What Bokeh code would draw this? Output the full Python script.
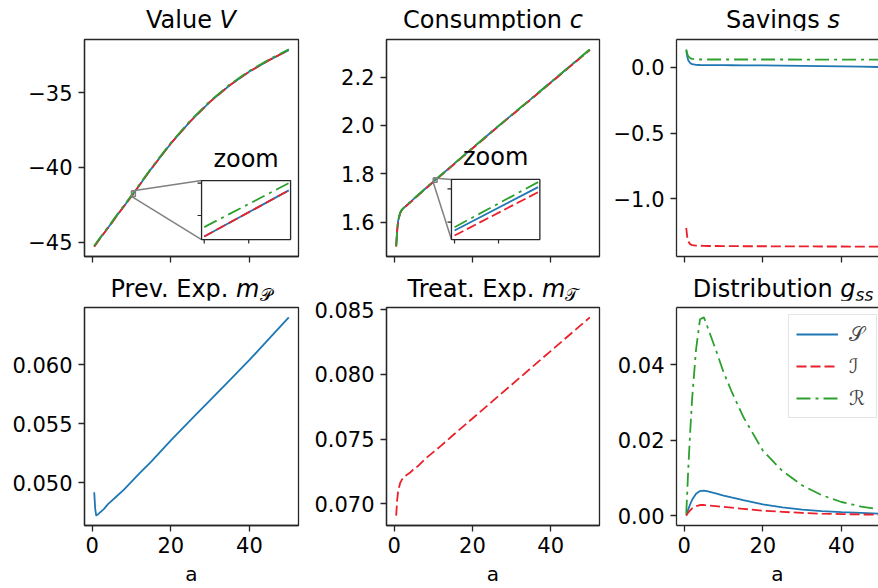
from bokeh.plotting import figure
from bokeh.layouts import column, row
from bokeh.models import Range1d, FixedTicker, Label, LinearAxis, Div
from bokeh.embed import file_html
from bokeh.resources import INLINE

FONT = "DejaVu Sans"

# ---------------- data ----------------
a = [0.5, 0.75, 1, 1.5, 2, 3, 4, 5, 6, 8, 10, 12, 15, 20, 25, 30, 35, 40, 45, 50]

V_S = [-45.30, -45.20, -45.12, -44.93, -44.75, -44.40, -44.05, -43.70, -43.33, -42.62,
       -41.93, -41.20, -40.10, -38.40, -36.90, -35.60, -34.50, -33.58, -32.82, -32.15]
V_I = [-45.31, -45.21, -45.13, -44.94, -44.76, -44.41, -44.06, -43.71, -43.34, -42.63,
       -41.93, -41.20, -40.10, -38.40, -36.90, -35.60, -34.50, -33.58, -32.82, -32.15]
V_R = [-45.25, -45.15, -45.07, -44.88, -44.70, -44.35, -44.00, -43.65, -43.28, -42.57,
       -41.875, -41.15, -40.05, -38.35, -36.85, -35.55, -34.45, -33.53, -32.77, -32.10]

c_S = [1.500, 1.565, 1.605, 1.638, 1.652, 1.667, 1.681, 1.696, 1.710, 1.739,
       1.7675, 1.795, 1.837, 1.906, 1.975, 2.043, 2.110, 2.178, 2.246, 2.314]
c_I = [1.4985, 1.5635, 1.6035, 1.6365, 1.6505, 1.6655, 1.6795, 1.6945, 1.7085, 1.7375,
       1.766, 1.7935, 1.8355, 1.9045, 1.9735, 2.0415, 2.1085, 2.1765, 2.2445, 2.3125]
c_R = [1.501, 1.566, 1.606, 1.639, 1.653, 1.668, 1.682, 1.697, 1.711, 1.740,
       1.7685, 1.796, 1.838, 1.907, 1.976, 2.044, 2.111, 2.179, 2.247, 2.315]

s_S = [0.128, 0.085, 0.055, 0.033, 0.024, 0.019, 0.018, 0.0175, 0.017, 0.0168,
       0.0165, 0.016, 0.0155, 0.0145, 0.013, 0.0115, 0.0095, 0.0075, 0.005, 0.0025]
s_I = [-1.222, -1.290, -1.325, -1.346, -1.353, -1.357, -1.358, -1.359, -1.360, -1.360,
       -1.361, -1.361, -1.362, -1.362, -1.363, -1.363, -1.364, -1.364, -1.365, -1.365]
s_R = [0.137, 0.105, 0.085, 0.070, 0.064, 0.061, 0.060, 0.060, 0.060, 0.060,
       0.060, 0.060, 0.060, 0.0598, 0.0597, 0.0596, 0.0595, 0.0594, 0.0593, 0.0592]

m_P = [0.0492, 0.0478, 0.04723, 0.04735, 0.0475, 0.0478, 0.0482, 0.0485, 0.0488, 0.0494,
       0.0501, 0.0508, 0.0518, 0.0536, 0.0553, 0.0570, 0.0587, 0.0604, 0.0622, 0.0640]
m_T = [0.0691, 0.0703, 0.0710, 0.0716, 0.0719, 0.0722, 0.0724, 0.0727, 0.0729, 0.0735,
       0.0740, 0.0745, 0.0753, 0.0766, 0.0779, 0.0792, 0.0805, 0.0818, 0.0831, 0.0844]

g_S = [0.0, 0.0008, 0.0016, 0.0030, 0.0042, 0.0058, 0.0065, 0.0066, 0.0064, 0.0059,
       0.0053, 0.0048, 0.0041, 0.0030, 0.0022, 0.0016, 0.0012, 0.0009, 0.0007, 0.0005]
g_I = [0.0, 0.0004, 0.0008, 0.0014, 0.0019, 0.0025, 0.0028, 0.0028, 0.0027, 0.0025,
       0.0023, 0.0021, 0.0018, 0.0013, 0.0010, 0.0007, 0.0005, 0.0004, 0.0003, 0.0002]
g_R = [0.0005, 0.0060, 0.0120, 0.0220, 0.0310, 0.0440, 0.0520, 0.0525, 0.0497, 0.0440,
       0.0380, 0.0330, 0.0262, 0.0172, 0.0118, 0.0080, 0.0054, 0.0036, 0.0024, 0.0016]

# zoom insets (a around 10)
zoom_a = [10.0, 10.95]
V_S_zoom = [-41.93, -41.645]
V_I_zoom = [-41.93, -41.645]
V_R_zoom = [-41.872, -41.60]
V_zoom_x = [9.97, 10.97]
V_zoom_y = [-41.949, -41.584]
V_zoom_xticks = [10.0, 10.5]
V_zoom_yticks = [-41.8, -41.6]

c_S_zoom = [1.7675, 1.7805]
c_I_zoom = [1.7660, 1.7790]
c_R_zoom = [1.7685, 1.7820]
c_zoom_x = [9.965, 10.97]
c_zoom_y = [1.7648, 1.7828]
c_zoom_xticks = [10.0, 10.5]
c_zoom_yticks = [1.77, 1.78]

x_ticks = [0, 20, 40]
x_tick_labels = ["0", "20", "40"]
V_ticks = [-45, -40, -35]
V_tick_labels = ["\u221245", "\u221240", "\u221235"]
c_ticks = [1.6, 1.8, 2.0, 2.2]
c_tick_labels = ["1.6", "1.8", "2.0", "2.2"]
s_ticks = [-1.0, -0.5, 0.0]
s_tick_labels = ["\u22121.0", "\u22120.5", "0.0"]
mP_ticks = [0.05, 0.055, 0.06]
mP_tick_labels = ["0.050", "0.055", "0.060"]
mT_ticks = [0.07, 0.075, 0.08, 0.085]
mT_tick_labels = ["0.070", "0.075", "0.080", "0.085"]
g_ticks = [0.0, 0.02, 0.04]
g_tick_labels = ["0.00", "0.02", "0.04"]

legend_labels = ["\U0001D4AE", "\u2110", "\u211B"]

titles = [
    "Value <i>V</i>",
    "Consumption <i>c</i>",
    "Savings <i>s</i>",
    "Prev. Exp. <i>m</i><sub>\U0001D4AB</sub>",
    "Treat. Exp. <i>m</i><sub>\U0001D4AF</sub>",
    "Distribution <i>g</i><sub><i>ss</i></sub>",
]

# ---------------- style ----------------
C_S = "#1f77b4"
C_I = "#e8212a"
C_R = "#2ca02c"
DASH_I = "10 4"
DASH_R = "14 5 3 5"
LW = 1.8
AX = "#262626"
TICK_FS = "21px"


def mpl_range(*series):
    vals = [v for s in series for v in s]
    lo, hi = min(vals), max(vals)
    m = 0.05 * (hi - lo)
    return lo - m, hi + m


XR = mpl_range(a)
FULL_W = 214


def make_fig(width, height, mbl, mbr, mbt, mbb, xr, yr, yt, ytl, bottom_labels, open_right=False):
    p = figure(width=width, height=height, x_range=Range1d(*xr), y_range=Range1d(*yr),
               output_backend="svg", toolbar_location=None, title=None,
               min_border_left=mbl, min_border_right=mbr, min_border_top=mbt,
               min_border_bottom=mbb, background_fill_color="white",
               border_fill_color="white")
    p.grid.visible = False
    xa = p.below[0]
    ya = p.left[0]
    for ax in (xa, ya):
        ax.axis_line_color = AX
        ax.axis_line_width = 1.3
        ax.major_tick_line_color = AX
        ax.major_tick_line_width = 1.3
        ax.major_tick_out = 6
        ax.major_tick_in = 0
        ax.minor_tick_line_color = None
        ax.major_label_text_font = FONT
        ax.major_label_text_font_size = TICK_FS
        ax.major_label_text_color = "black"
    xa.ticker = FixedTicker(ticks=x_ticks)
    if bottom_labels:
        xa.major_label_overrides = dict(zip(x_ticks, x_tick_labels))
        xa.major_label_standoff = 5
        xa.axis_label = "a"
        xa.axis_label_text_font = FONT
        xa.axis_label_text_font_size = "20px"
        xa.axis_label_text_font_style = "normal"
        xa.axis_label_text_color = "black"
        xa.axis_label_standoff = 6
    else:
        xa.major_label_overrides = {t: "" for t in x_ticks}
        xa.major_label_text_font_size = "0px"
        xa.major_label_standoff = 0
    ya.ticker = FixedTicker(ticks=yt)
    ya.major_label_overrides = dict(zip(yt, ytl))
    ya.major_label_standoff = 6
    if open_right:
        p.outline_line_color = None
        top = LinearAxis(ticker=FixedTicker(ticks=[]), major_label_text_font_size="0px",
                         major_tick_line_color=None, minor_tick_line_color=None,
                         axis_line_color=AX, axis_line_width=1.3)
        p.add_layout(top, "above")
    else:
        p.outline_line_color = AX
        p.outline_line_width = 1.3
        p.outline_line_alpha = 1.0
    return p


def title_div(width, height, mbl, html, pad_top):
    fc = mbl + FULL_W / 2
    half = min(fc, width - fc)
    left = fc - half
    inner = (f'<div style="margin-left:{left:.1f}px;width:{2 * half:.1f}px;'
             f'padding-top:{pad_top}px;text-align:center;white-space:nowrap;'
             f'font-family:\'DejaVu Sans\';font-size:24px;line-height:24px;color:black">'
             f'{html}</div>')
    inner = inner.replace("<sub>", '<sub style="font-size:17px;line-height:0;vertical-align:-4px">')
    return Div(text=inner, width=width, height=height, margin=0)


def three_lines(p, xs, ys_s, ys_i, ys_r, legend=False):
    kw = [{}, {}, {}]
    if legend:
        kw = [dict(legend_label=l) for l in legend_labels]
    p.line(xs, ys_s, line_color=C_S, line_width=LW, **kw[0])
    p.line(xs, ys_i, line_color=C_I, line_width=LW, line_dash=DASH_I, **kw[1])
    p.line(xs, ys_r, line_color=C_R, line_width=LW, line_dash=DASH_R, **kw[2])


def add_inset(p, xr, yr, fx, fy, zx, zy, zxt, zyt, zs, zi, zr):
    tx = [xr[0] + f * (xr[1] - xr[0]) for f in fx]
    ty = [yr[0] + f * (yr[1] - yr[0]) for f in fy]
    p.quad(left=[zx[0]], right=[zx[1]], bottom=[zy[0]], top=[zy[1]],
           fill_color=None, line_color="#808080", line_width=1.5)
    p.segment(x0=[zx[0], zx[0]], y0=[zy[1], zy[0]], x1=[tx[0], tx[0]], y1=[ty[1], ty[0]],
              line_color="#808080", line_width=1.5)
    sub = p.subplot(x_source=Range1d(*zx), y_source=Range1d(*zy),
                    x_target=Range1d(*tx), y_target=Range1d(*ty))
    sub.quad(left=[zx[0]], right=[zx[1]], bottom=[zy[0]], top=[zy[1]],
             fill_color="white", line_color=AX, line_width=1.3)
    sub.line(zoom_a, zs, line_color=C_S, line_width=LW)
    sub.line(zoom_a, zi, line_color=C_I, line_width=LW, line_dash=DASH_I)
    sub.line(zoom_a, zr, line_color=C_R, line_width=LW, line_dash=DASH_R)
    h_px = (fy[1] - fy[0]) * 217
    w_px = (fx[1] - fx[0]) * 214
    ty_len = (zy[1] - zy[0]) * 4.0 / h_px
    tx_len = (zx[1] - zx[0]) * 4.0 / w_px
    sub.segment(x0=zxt, x1=zxt, y0=[zy[0]] * len(zxt), y1=[zy[0] - ty_len] * len(zxt),
                line_color=AX, line_width=1.2)
    sub.segment(x0=[zx[0]] * len(zyt), x1=[zx[0] - tx_len] * len(zyt), y0=zyt, y1=zyt,
                line_color=AX, line_width=1.2)
    p.add_layout(Label(x=(tx[0] + tx[1]) / 2, y=ty[1], y_offset=22, text="zoom",
                       text_align="center", text_baseline="alphabetic", text_font=FONT,
                       text_font_size="24px", text_color="black"))


W1, W2, W3 = 300, 301, 277
ML1, ML2, ML3 = 84, 86, 75
TOP_H, BOT_H = 236, 288
XR3 = (XR[0], XR[0] + (XR[1] - XR[0]) * 202 / FULL_W)

# ---- Value V
yrV = mpl_range(V_S, V_I, V_R)
p1 = make_fig(W1, TOP_H, ML1, 2, 9, 10, XR, yrV, V_ticks, V_tick_labels, False)
three_lines(p1, a, V_S, V_I, V_R)
add_inset(p1, XR, yrV, (0.547, 0.963), (0.078, 0.35), V_zoom_x, V_zoom_y,
          V_zoom_xticks, V_zoom_yticks, V_S_zoom, V_I_zoom, V_R_zoom)

# ---- Consumption c
yrc = mpl_range(c_S, c_I, c_R)
p2 = make_fig(W2, TOP_H, ML2, 2, 9, 10, XR, yrc, c_ticks, c_tick_labels, False)
three_lines(p2, a, c_S, c_I, c_R)
add_inset(p2, XR, yrc, (0.305, 0.72), (0.078, 0.355), c_zoom_x, c_zoom_y,
          c_zoom_xticks, c_zoom_yticks, c_S_zoom, c_I_zoom, c_R_zoom)

# ---- Savings s
yrs = mpl_range(s_S, s_I, s_R)
p3 = make_fig(W3, TOP_H, ML3, 0, 9, 10, XR3, yrs, s_ticks, s_tick_labels, False, open_right=True)
three_lines(p3, a, s_S, s_I, s_R)

# ---- Prev. Exp.
yrP = mpl_range(m_P)
p4 = make_fig(W1, BOT_H, ML1, 2, 7, 63, XR, yrP, mP_ticks, mP_tick_labels, True)
p4.line(a, m_P, line_color=C_S, line_width=LW)

# ---- Treat. Exp.
yrT = mpl_range(m_T)
p5 = make_fig(W2, BOT_H, ML2, 2, 7, 63, XR, yrT, mT_ticks, mT_tick_labels, True)
p5.line(a, m_T, line_color=C_I, line_width=LW, line_dash=DASH_I)

# ---- Distribution
yrg = mpl_range(g_S, g_I, g_R)
p6 = make_fig(W3, BOT_H, ML3, 0, 7, 63, XR3, yrg, g_ticks, g_tick_labels, True, open_right=True)
three_lines(p6, a, g_S, g_I, g_R, legend=True)
lg = p6.legend[0]
lg.margin = 0
lg.padding = 7
lg.spacing = 8
lg.glyph_width = 42
lg.glyph_height = 20
lg.label_height = 20
lg.label_standoff = 11
lg.label_text_font = FONT
lg.label_text_font_size = "20px"
lg.border_line_color = "#cccccc"
lg.border_line_width = 1.2
lg.background_fill_alpha = 0.8
# legend box: left edge 112 px into the frame, top about 11 px below the frame top
lg.location = (112, 218 - 11 - 100)

widths = [W1, W2, W3]
lefts = [ML1, ML2, ML3]
d_top = [title_div(widths[i], 30, lefts[i], titles[i], 8) for i in range(3)]
d_bot = [title_div(widths[i], 34, lefts[i], titles[i + 3], 11) for i in range(3)]

layout = column(row(*d_top, spacing=0), row(p1, p2, p3, spacing=0),
                row(*d_bot, spacing=0), row(p4, p5, p6, spacing=0), spacing=0)

with open("out.html", "w") as f:
    f.write(file_html(layout, INLINE))
